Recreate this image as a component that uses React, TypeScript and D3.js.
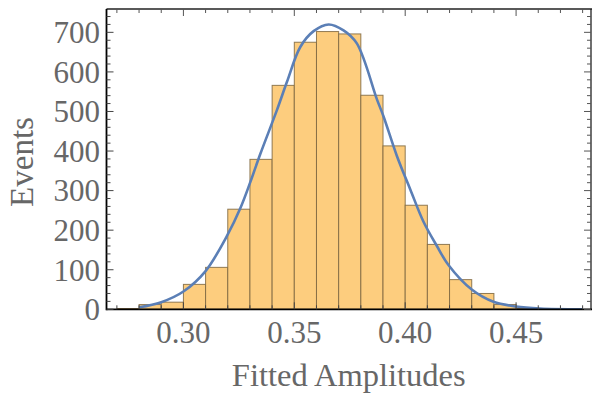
import React from "react";
import * as d3 from "d3";

// Histogram bins (left edges) and counts
const binStarts = [0.27, 0.28, 0.29, 0.30, 0.31, 0.32, 0.33, 0.34, 0.35, 0.36, 0.37, 0.38, 0.39, 0.40, 0.41, 0.42, 0.43, 0.44, 0.45];
const binCounts = [2, 12, 18, 63, 106, 253, 379, 566, 675, 702, 696, 541, 413, 263, 164, 75, 40, 12, 2];
const binWidth = 0.01;

// Fitted curve points
const curveX = [0.2800, 0.2900, 0.3000, 0.3099, 0.3197, 0.3257, 0.3302, 0.3347, 0.3422, 0.3467, 0.3527, 0.3587, 0.3655, 0.3722, 0.3782, 0.3873, 0.3902, 0.3963, 0.4023, 0.4082, 0.4143, 0.4195, 0.4300, 0.4398, 0.4500, 0.4608, 0.4800];
const curveY = [5, 18, 45, 96, 186, 256, 322, 393, 504, 575, 663, 703, 720, 705, 672, 530, 488, 387, 303, 222, 160, 112, 50, 19, 7, 2, 0];

const xTicks = [0.30, 0.35, 0.40, 0.45];
const yTicks = [0, 100, 200, 300, 400, 500, 600, 700];

const xLabel = "Fitted Amplitudes";
const yLabel = "Events";

export default function App() {
  const W = 592, H = 393;
  const left = 106.5, right = 591, top = 9, bottom = 309.3;
  const x = d3.scaleLinear().domain([0.26532, 0.48378]).range([left, right]);
  const y = d3.scaleLinear().domain([0, 759]).range([bottom, top]);

  const xMinor = d3.range(0.27, 0.4851, 0.01).map((v) => +v.toFixed(3));
  const yMinor = d3.range(0, 760, 20);

  const line = d3
    .line<number>()
    .x((_, i) => x(curveX[i]))
    .y((d) => y(d))
    .curve(d3.curveCatmullRom.alpha(0.5));

  const font = "'Liberation Serif', 'Times New Roman', serif";
  const textColor = "#676767";

  return (
    <svg width={W} height={H} style={{ position: "absolute", left: 0, top: 0 }}>
      <rect x={0} y={0} width={W} height={H} fill="#fff" />
      <defs>
        <clipPath id="plot">
          <rect x={left} y={top} width={right - left} height={bottom - top} />
        </clipPath>
      </defs>
      <g>
        {binStarts.map((b, i) => (
          <rect
            key={i}
            x={x(b)}
            y={y(binCounts[i])}
            width={x(b + binWidth) - x(b)}
            height={y(0) - y(binCounts[i])}
            fill="#FDCD7E"
            stroke="#7d6640"
            strokeOpacity={0.85}
            strokeWidth={1}
          />
        ))}
      </g>
      <path
        d={line(curveY) || ""}
        fill="none"
        stroke="#5B7FB6"
        strokeWidth={2.6}
        clipPath="url(#plot)"
      />
      {/* frame */}
      <line x1={left} x2={right + 2} y1={top} y2={top} stroke="#222" strokeWidth={1.3} />
      <line x1={right} x2={right} y1={top} y2={bottom} stroke="#222" strokeWidth={1.3} />
      <line x1={left} x2={left} y1={top} y2={bottom + 1} stroke="#000" strokeWidth={1.8} />
      <line x1={left} x2={right + 2} y1={bottom} y2={bottom} stroke="#000" strokeWidth={1.8} />
      {/* x ticks bottom and top */}
      {xMinor.map((v, i) => {
        const major = xTicks.some((t) => Math.abs(t - v) < 1e-6);
        const len = major ? 7 : 4;
        return (
          <g key={"xt" + i}>
            <line x1={x(v)} x2={x(v)} y1={bottom} y2={bottom - len} stroke="#444" strokeWidth={1} />
            <line x1={x(v)} x2={x(v)} y1={top} y2={top + len} stroke="#555" strokeWidth={1} />
          </g>
        );
      })}
      {yMinor.map((v, i) => {
        const major = v % 100 === 0;
        const len = major ? 7 : 4;
        return (
          <g key={"yt" + i}>
            <line x1={left} x2={left + len} y1={y(v)} y2={y(v)} stroke="#444" strokeWidth={1} />
            <line x1={right} x2={right - len} y1={y(v)} y2={y(v)} stroke="#555" strokeWidth={1} />
          </g>
        );
      })}
      {/* tick labels */}
      {xTicks.map((t) => (
        <text
          key={"xl" + t}
          x={x(t)}
          y={343}
          textAnchor="middle"
          fontFamily={font}
          fontSize={31}
          fill={textColor}
        >
          {t.toFixed(2)}
        </text>
      ))}
      {yTicks.map((t) => (
        <text
          key={"yl" + t}
          x={100}
          y={y(t)}
          dy="0.35em"
          textAnchor="end"
          fontFamily={font}
          fontSize={31}
          fill={textColor}
        >
          {t}
        </text>
      ))}
      <text
        x={(left + right) / 2}
        y={386}
        textAnchor="middle"
        fontFamily={font}
        fontSize={32.5}
        fill={textColor}
      >
        {xLabel}
      </text>
      <text
        transform={`translate(33,162) rotate(-90)`}
        textAnchor="middle"
        fontFamily={font}
        fontSize={33}
        fill={textColor}
      >
        {yLabel}
      </text>
    </svg>
  );
}
